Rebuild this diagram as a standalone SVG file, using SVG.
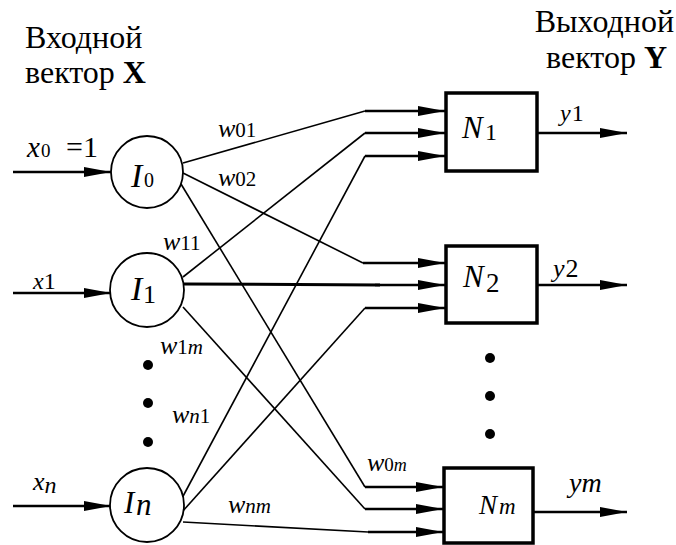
<svg xmlns="http://www.w3.org/2000/svg" width="676" height="545" viewBox="0 0 676 545">
<defs>
<marker id="ah" markerUnits="userSpaceOnUse" markerWidth="28" markerHeight="12" refX="27" refY="5" orient="auto">
<path d="M0,0 L27,5 L0,10 z" fill="#000"/>
</marker>
</defs>
<style>
text{font-family:"Times New Roman",Times,"Liberation Serif","Noto Serif","DejaVu Serif",serif;fill:#000}
.it{font-style:italic}
.thin{stroke:#000;stroke-width:1.6;fill:none}
.arr{stroke:#000;stroke-width:2.6;fill:none;marker-end:url(#ah)}
.node{fill:#fff;stroke:#000;stroke-width:1.8}
.box{fill:#fff;stroke:#000;stroke-width:3.5}
</style>
<rect width="676" height="545" fill="#fff"/>
<g id="headers" font-size="32">
<text x="25" y="48">Входной</text>
<text x="25" y="83">вектор <tspan font-weight="bold">X</tspan></text>
<text x="674" y="32" text-anchor="end">Выходной</text>
<text x="667" y="68" text-anchor="end">вектор <tspan font-weight="bold">Y</tspan></text>
</g>

<g id="connectors">
<line class="arr" x1="13" y1="172" x2="111" y2="172"/>
<line class="arr" x1="13" y1="293" x2="111" y2="293"/>
<line class="arr" x1="13" y1="506" x2="111" y2="506"/>
<polyline class="thin" points="183,163 365,111"/>
<polyline class="thin" points="183,173 363,263"/>
<polyline class="thin" points="181,184 365,487"/>
<polyline class="thin" points="183,277 365,133"/>
<polyline class="thin" points="183,307 365,509"/>
<polyline class="thin" points="181,500 365,156"/>
<polyline class="thin" points="182,512 365,308"/>
<polyline class="thin" points="183,522 368,532"/>
<line x1="184" y1="284" x2="380" y2="285" stroke="#000" stroke-width="3"/>
<line class="arr" x1="365" y1="111" x2="445" y2="111"/>
<line class="arr" x1="365" y1="133" x2="445" y2="133"/>
<line class="arr" x1="365" y1="156" x2="445" y2="156"/>
<line class="arr" x1="363" y1="263" x2="445" y2="263"/>
<line class="arr" x1="375" y1="285" x2="445" y2="285"/>
<line class="arr" x1="365" y1="308" x2="445" y2="308"/>
<line class="arr" x1="365" y1="487" x2="443" y2="487"/>
<line class="arr" x1="365" y1="509" x2="443" y2="509"/>
<line class="arr" x1="368" y1="532" x2="443" y2="532"/>
<line class="arr" x1="532" y1="133" x2="627" y2="133"/>
<line class="arr" x1="532" y1="285" x2="627" y2="285"/>
<line class="arr" x1="530" y1="512" x2="627" y2="512"/>
</g>

<g id="I0">
<circle class="node" cx="147" cy="172" r="36"/>
<text x="131" y="187" class="it" font-size="34">I</text><text x="144" y="187" font-size="20">0</text>
</g>
<g id="I1">
<circle class="node" cx="147" cy="290" r="37"/>
<text x="131" y="300" class="it" font-size="34">I</text><text x="143" y="303" font-size="26">1</text>
</g>
<g id="In">
<circle class="node" cx="147" cy="505" r="37"/>
<text x="124" y="513" class="it" font-size="31">I</text><text x="136" y="515" class="it" font-size="31">n</text>
</g>

<g id="N1">
<rect class="box" x="446" y="93" width="91" height="78"/>
<text x="462" y="138" class="it" font-size="31">N</text><text x="485" y="140" font-size="24">1</text>
</g>
<g id="N2">
<rect class="box" x="446" y="246" width="91" height="77"/>
<text x="463" y="287" class="it" font-size="31">N</text><text x="486" y="292" font-size="27">2</text>
</g>
<g id="Nm">
<rect class="box" x="444" y="468" width="89" height="75"/>
<text x="479" y="514" class="it" font-size="27">N</text><text x="499" y="514" class="it" font-size="23">m</text>
</g>

<g id="dots">
<circle cx="148" cy="365" r="5"/>
<circle cx="148" cy="403" r="5"/>
<circle cx="148" cy="442" r="5"/>
<circle cx="490" cy="358" r="5"/>
<circle cx="490" cy="396" r="5"/>
<circle cx="490" cy="434" r="5"/>
</g>

<g id="labels">
<text x="27" y="157"><tspan class="it" font-size="29">x</tspan><tspan font-size="19" dx="1">0</tspan></text>
<text x="66" y="157" font-size="30">=1</text>
<text x="33" y="289"><tspan class="it" font-size="24">x</tspan><tspan font-size="24">1</tspan></text>
<text x="33" y="490"><tspan class="it" font-size="26">x</tspan><tspan class="it" font-size="24" dy="3">n</tspan></text>
<text x="560" y="121"><tspan class="it" font-size="24">y</tspan><tspan font-size="24" dx="1">1</tspan></text>
<text x="553" y="277"><tspan class="it" font-size="26">y</tspan><tspan font-size="26" dx="1">2</tspan></text>
<text x="569" y="492" class="it" font-size="28">ym</text>
<text x="218" y="137"><tspan class="it" font-size="26">w</tspan><tspan font-size="21">01</tspan></text>
<text x="218" y="186"><tspan class="it" font-size="26">w</tspan><tspan font-size="21">02</tspan></text>
<text x="163" y="250"><tspan class="it" font-size="26">w</tspan><tspan font-size="21">11</tspan></text>
<text x="160" y="354"><tspan class="it" font-size="26">w</tspan><tspan font-size="21">1</tspan><tspan class="it" font-size="21">m</tspan></text>
<text x="172" y="423"><tspan class="it" font-size="26">w</tspan><tspan class="it" font-size="21">n</tspan><tspan font-size="21">1</tspan></text>
<text x="367" y="471"><tspan class="it" font-size="26">w</tspan><tspan font-size="19">0</tspan><tspan class="it" font-size="18">m</tspan></text>
<text x="228" y="513"><tspan class="it" font-size="26">w</tspan><tspan class="it" font-size="21">nm</tspan></text>
</g>
</svg>
